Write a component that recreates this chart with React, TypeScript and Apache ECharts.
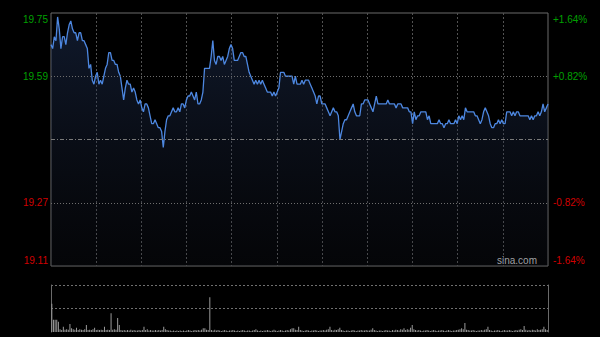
import React, { useEffect, useRef } from 'react';
import * as echarts from 'echarts';

// Intraday price (left to right)
const priceSeg1 = [
  19.67, 19.66, 19.69, 19.68, 19.74, 19.71, 19.66, 19.69, 19.69, 19.67,
  19.70, 19.72, 19.73, 19.71, 19.70, 19.70, 19.68, 19.70, 19.70, 19.68,
  19.68, 19.67, 19.66, 19.61, 19.62, 19.58, 19.57, 19.59, 19.60, 19.57,
  19.58, 19.57, 19.59, 19.61, 19.62, 19.65, 19.65, 19.63, 19.63, 19.62,
  19.62, 19.60, 19.59, 19.56, 19.53, 19.56, 19.58, 19.57, 19.57, 19.55,
  19.56, 19.55, 19.53, 19.52, 19.53, 19.51, 19.50, 19.52, 19.52, 19.51,
  19.49, 19.47,
];
const priceSeg2 = [
  19.47, 19.48, 19.47, 19.46, 19.46, 19.45, 19.41, 19.45, 19.48, 19.49,
  19.49, 19.50, 19.51, 19.50, 19.50, 19.51, 19.50, 19.52, 19.52, 19.51,
  19.53, 19.54, 19.54, 19.55, 19.54, 19.53, 19.55, 19.52, 19.52, 19.53,
  19.55, 19.61, 19.61, 19.61, 19.61, 19.64, 19.68, 19.63, 19.62, 19.64,
  19.64, 19.63, 19.64, 19.62, 19.63, 19.64, 19.66, 19.67, 19.66, 19.63,
  19.63, 19.63, 19.64, 19.65, 19.65, 19.64, 19.64, 19.62, 19.60, 19.59,
];
const priceSeg3 = [
  19.58, 19.57, 19.58, 19.57, 19.58, 19.57, 19.58, 19.57, 19.56, 19.55,
  19.55, 19.55, 19.54, 19.55, 19.54, 19.55, 19.56, 19.60, 19.60, 19.60,
  19.59, 19.59, 19.59, 19.59, 19.59, 19.57, 19.59, 19.57, 19.57, 19.57,
  19.58, 19.57, 19.58, 19.58, 19.58, 19.57, 19.56, 19.55, 19.54, 19.52,
  19.54, 19.54, 19.52, 19.52, 19.52, 19.51, 19.50, 19.49, 19.50, 19.51,
  19.50, 19.50, 19.49, 19.43, 19.45, 19.47, 19.48, 19.48, 19.49,
];
const priceSeg4 = [
  19.50, 19.51, 19.52, 19.50, 19.49, 19.49, 19.49, 19.52, 19.52, 19.53,
  19.53, 19.53, 19.52, 19.51, 19.50, 19.52, 19.54, 19.52, 19.52, 19.52,
  19.52, 19.52, 19.52, 19.53, 19.52, 19.52, 19.52, 19.52, 19.51, 19.52,
  19.52, 19.52, 19.51, 19.51, 19.51, 19.51, 19.50, 19.50, 19.47, 19.50,
  19.48, 19.49, 19.49, 19.50, 19.50, 19.50, 19.50, 19.48, 19.49, 19.47,
  19.47, 19.47, 19.47, 19.47, 19.48, 19.47, 19.47, 19.46, 19.47,
];
const priceSeg5 = [
  19.47, 19.48, 19.47, 19.47, 19.47, 19.48, 19.47, 19.49, 19.48, 19.49,
  19.48, 19.51, 19.50, 19.50, 19.50, 19.50, 19.50, 19.49, 19.49, 19.48,
  19.47, 19.48, 19.50, 19.51, 19.50, 19.49, 19.47, 19.46, 19.46, 19.47,
  19.47, 19.48, 19.47, 19.48, 19.47, 19.47, 19.50, 19.50, 19.50, 19.49,
  19.50, 19.49, 19.50, 19.50, 19.49, 19.49, 19.49, 19.49, 19.49, 19.49,
  19.48, 19.49, 19.48, 19.49, 19.49, 19.50, 19.49, 19.50, 19.52, 19.50,
  19.51, 19.52,
];

// Volume (relative units, 100 = top of the volume panel)
const volSeg1 = [
  60, 26, 26, 26, 22, 6, 4, 11, 5, 6, 5, 17, 8, 6, 5, 9, 4, 6, 5, 4,
  6, 15, 4, 5, 4, 6, 9, 4, 5, 4, 5, 4, 11, 4, 5, 4, 40, 5, 6, 5,
  30, 15, 4, 3, 4, 3, 4, 3, 5, 3, 4, 3, 3, 4, 3, 4, 11, 4, 6, 3,
];
const volSeg2 = [
  4, 3, 3, 4, 3, 4, 3, 4, 11, 6, 4, 3, 3, 2, 3, 2, 3, 2, 3, 2,
  3, 2, 3, 4, 3, 2, 3, 4, 3, 4, 3, 5, 8, 8, 5, 4, 74, 4, 3, 5,
  3, 4, 3, 2, 3, 4, 3, 2, 3, 3, 4, 3, 2, 3, 2, 3, 4, 3, 2, 3,
];
const volSeg3 = [
  3, 2, 3, 4, 6, 3, 2, 3, 2, 3, 3, 4, 3, 2, 3, 5, 3, 2, 3, 4,
  3, 2, 3, 4, 3, 6, 8, 8, 5, 4, 11, 4, 3, 2, 3, 4, 3, 2, 3, 3,
  4, 3, 2, 3, 3, 4, 3, 5, 6, 11, 4, 3, 5, 4, 6, 9, 4, 3, 2, 3,
];
const volSeg4 = [
  3, 2, 3, 4, 3, 2, 3, 3, 4, 3, 3, 4, 3, 3, 5, 8, 4, 3, 2, 3,
  3, 2, 3, 4, 3, 3, 2, 4, 3, 5, 4, 3, 6, 5, 8, 4, 6, 5, 9, 15,
  6, 4, 3, 4, 3, 2, 3, 3, 4, 3, 2, 3, 4, 3, 2, 3, 3, 4, 3, 2,
];
const volSeg5 = [
  3, 4, 3, 2, 3, 3, 4, 5, 6, 8, 6, 19, 5, 4, 3, 3, 4, 3, 2, 3,
  3, 4, 3, 5, 6, 11, 4, 3, 2, 3, 3, 4, 3, 2, 3, 4, 3, 3, 4, 3,
  2, 3, 4, 3, 5, 6, 4, 13, 5, 3, 4, 3, 5, 4, 3, 6, 4, 5, 6, 11,
  6, 4,
];

const prices = [...priceSeg1, ...priceSeg2, ...priceSeg3, ...priceSeg4, ...priceSeg5];
const volumes = [...volSeg1, ...volSeg2, ...volSeg3, ...volSeg4, ...volSeg5];

const prevClose = 19.43;
const priceTicks = [19.11, 19.27, 19.43, 19.59, 19.75];
const pctTicks = [-1.64, -0.82, 0, 0.82, 1.64];
const priceGridLines = [19.27, 19.59];
const timeDivisions = 11;
const volumeMax = 100;

const GREEN = '#00a000';
const RED = '#d00000';
const FONT = 'Arial, "Liberation Sans", sans-serif';

export default function App() {
  const ref = useRef<HTMLDivElement>(null);

  useEffect(() => {
    document.body.style.margin = '0';
    document.body.style.background = '#000';
    const chart = echarts.init(ref.current!, null, { renderer: 'svg' });
    const idx = prices.map((_, i) => String(i));

    const baseRich = { fontSize: 10, fontFamily: FONT };
    const rich = {
      g: { ...baseRich, color: GREEN },
      gt: { ...baseRich, color: GREEN, padding: [13, 0, 0, 0] },
      r: { ...baseRich, color: RED },
      rb: { ...baseRich, color: RED, padding: [0, 0, 12, 0] },
    };
    const styleFor = (i: number) => {
      const last = priceTicks.length - 1;
      const mid = Math.floor(last / 2);
      if (i === mid) return null;
      if (i === last) return 'gt';
      if (i === 0) return 'rb';
      return i > mid ? 'g' : 'r';
    };

    const vColors = Array.from({ length: timeDivisions + 1 }, (_, i) =>
      i === 0 || i === timeDivisions ? 'rgba(0,0,0,0)' : '#525252'
    );

    chart.setOption({
      animation: false,
      backgroundColor: '#000',
      grid: [
        {
          left: 51, right: 52, top: 13, height: 253,
          show: true, borderColor: '#6a6a6a', borderWidth: 1, backgroundColor: 'transparent',
        },
        { left: 51, right: 52, top: 285, height: 47 },
      ],
      xAxis: [
        { type: 'category', gridIndex: 0, data: idx, boundaryGap: false, show: false },
        {
          type: 'value', gridIndex: 0, min: 0, max: timeDivisions, interval: 1,
          axisLine: { show: false }, axisTick: { show: false }, axisLabel: { show: false },
          splitLine: { show: true, lineStyle: { color: vColors, type: [2, 2], width: 1 } },
        },
        { type: 'category', gridIndex: 1, data: idx, show: false },
      ],
      yAxis: [
        {
          type: 'value', gridIndex: 0,
          min: priceTicks[0], max: priceTicks[priceTicks.length - 1], show: false,
        },
        {
          type: 'category', gridIndex: 0, position: 'left', boundaryGap: false,
          data: priceTicks.map((v) => v.toFixed(2)),
          axisLine: { show: false }, axisTick: { show: false }, splitLine: { show: false },
          axisLabel: {
            interval: 0, margin: 3, rich,
            formatter: (v: string, i: number) => {
              const s = styleFor(i);
              return s ? `{${s}|${v}}` : '';
            },
          },
        },
        {
          type: 'category', gridIndex: 0, position: 'right', boundaryGap: false,
          data: pctTicks.map((v) => (v > 0 ? '+' : '') + v.toFixed(2) + '%'),
          axisLine: { show: false }, axisTick: { show: false }, splitLine: { show: false },
          axisLabel: {
            interval: 0, margin: 5, align: 'left', rich,
            formatter: (v: string, i: number) => {
              const s = styleFor(i);
              return s ? `{${s}|${v}}` : '';
            },
          },
        },
        {
          type: 'value', gridIndex: 1, position: 'left', min: 0, max: volumeMax, interval: volumeMax / 2,
          axisLine: { show: true, lineStyle: { color: '#6a6a6a' } },
          axisTick: { show: false }, axisLabel: { show: false },
          splitLine: { show: true, lineStyle: { color: ['rgba(0,0,0,0)', '#707070', '#707070'], type: [2, 2] } },
        },
        {
          type: 'value', gridIndex: 1, position: 'right', min: 0, max: volumeMax,
          axisLine: { show: true, lineStyle: { color: '#6a6a6a' } },
          axisTick: { show: false }, axisLabel: { show: false }, splitLine: { show: false },
        },
      ],
      series: [
        {
          type: 'line', xAxisIndex: 0, yAxisIndex: 0, data: prices,
          symbol: 'none', showSymbol: false,
          lineStyle: { color: '#4d87e0', width: 1.3 },
          areaStyle: {
            origin: 'start',
            color: new echarts.graphic.LinearGradient(0, 0, 0, 1, [
              { offset: 0, color: 'rgba(38,60,105,0.6)' },
              { offset: 1, color: 'rgba(25,30,45,0.25)' },
            ]),
          },
          markLine: {
            symbol: 'none', silent: true, label: { show: false },
            data: [
              ...priceGridLines.map((v) => ({
                yAxis: v, lineStyle: { color: '#6e6e6e', type: [1, 2], width: 1 },
              })),
              { yAxis: prevClose, lineStyle: { color: '#7a7a7a', type: [4, 2, 1, 2], width: 1 } },
            ],
          },
        },
        {
          type: 'bar', xAxisIndex: 2, yAxisIndex: 3, data: volumes,
          barWidth: 1, itemStyle: { color: '#9a9a9a' },
        },
      ],
      graphic: [
        {
          type: 'text', right: 63, top: 255,
          style: { text: 'sina.com', fill: '#bdbdbd', font: `10px ${FONT}` },
        },
      ],
    });

    return () => chart.dispose();
  }, []);

  return (
    <div
      ref={ref}
      style={{ position: 'fixed', left: 0, top: 0, width: 600, height: 337, background: '#000' }}
    />
  );
}
